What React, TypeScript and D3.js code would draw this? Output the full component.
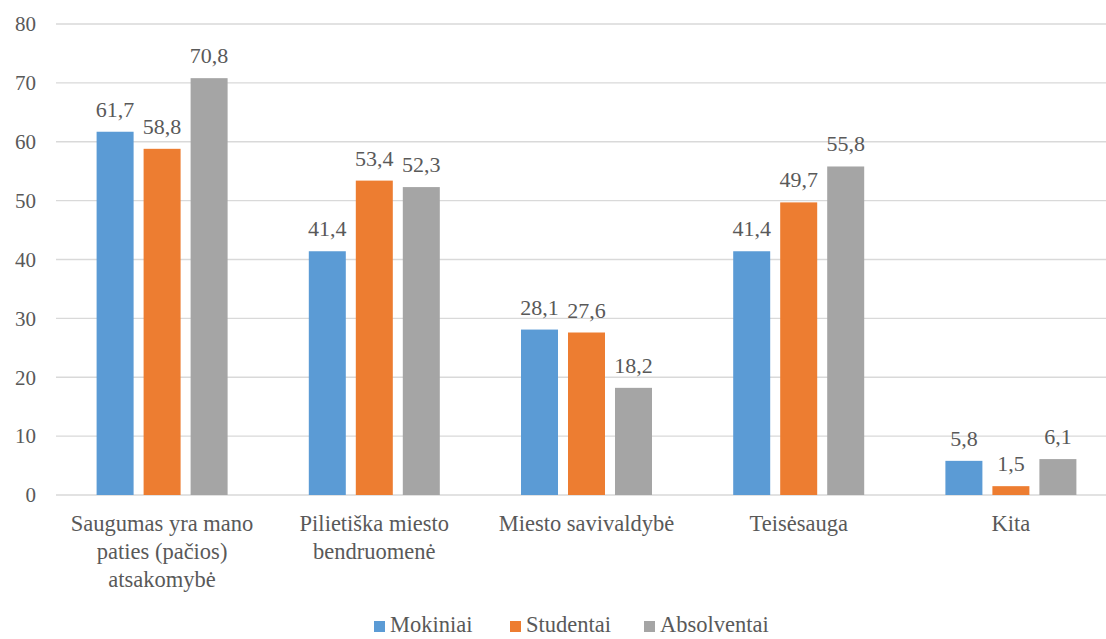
import React from "react";
import * as d3 from "d3";

const categories = [
  "Saugumas yra mano paties (pačios) atsakomybė",
  "Pilietiška miesto bendruomenė",
  "Miesto savivaldybė",
  "Teisėsauga",
  "Kita",
];
const categoryLines = [
  ["Saugumas yra mano", "paties (pačios)", "atsakomybė"],
  ["Pilietiška miesto", "bendruomenė"],
  ["Miesto savivaldybė"],
  ["Teisėsauga"],
  ["Kita"],
];
const seriesNames = ["Mokiniai", "Studentai", "Absolventai"];
const mokiniai = [61.7, 41.4, 28.1, 41.4, 5.8];
const studentai = [58.8, 53.4, 27.6, 49.7, 1.5];
const absolventai = [70.8, 52.3, 18.2, 55.8, 6.1];
const colors = ["#5B9BD5", "#ED7D31", "#A5A5A5"];
const yTicks = [0, 10, 20, 30, 40, 50, 60, 70, 80];

const W = 1106;
const H = 639;
const FONT =
  '"Times New Roman", Times, "Liberation Serif", Tinos, "Noto Serif", "DejaVu Serif", serif';
const TXT = "#595959";

export default function App() {
  const series = [mokiniai, studentai, absolventai];
  const x = d3.scaleBand<string>().domain(categories).range([56, 1117]).paddingInner(0).paddingOuter(0);
  const y = d3.scaleLinear().domain([0, 80]).range([495, 24]);
  const barW = 37;
  const gap = 10;
  const groupW = barW * 3 + gap * 2;
  const fmt = (v: number) => v.toFixed(1).replace(".", ",");

  const legendX = [374, 510, 644];

  return (
    <svg width={W} height={H} style={{ position: "absolute", left: 0, top: 0, fontFamily: FONT }}>
      <rect x={0} y={0} width={W} height={H} fill="#fff" />
      {yTicks.map((t) => (
        <g key={t}>
          <line x1={56} x2={1106} y1={y(t)} y2={y(t)} stroke="#D9D9D9" strokeWidth={1.3} />
          <text x={36} y={y(t)} dy="0.35em" textAnchor="end" fontSize={21} fill={TXT} style={{ fontFamily: FONT }}>
            {t}
          </text>
        </g>
      ))}
      {categories.map((c, i) => {
        const cx = (x(c) as number) + x.bandwidth() / 2;
        const start = cx - groupW / 2;
        return (
          <g key={c}>
            {series.map((s, j) => {
              const bx = start + j * (barW + gap);
              const v = s[i];
              return (
                <g key={j}>
                  <rect x={bx} y={y(v)} width={barW} height={y(0) - y(v)} fill={colors[j]} />
                  <text x={bx + barW / 2} y={y(v) - 15} textAnchor="middle" fontSize={22} fill={TXT} style={{ fontFamily: FONT }}>
                    {fmt(v)}
                  </text>
                </g>
              );
            })}
            <text textAnchor="middle" fontSize={22.5} fill={TXT} style={{ fontFamily: FONT }}>
              {categoryLines[i].map((l, k) => (
                <tspan key={k} x={cx} y={531 + k * 28}>
                  {l}
                </tspan>
              ))}
            </text>
          </g>
        );
      })}
      {seriesNames.map((n, j) => (
        <g key={n}>
          <rect x={legendX[j]} y={621} width={11} height={11} fill={colors[j]} />
          <text x={legendX[j] + 16} y={632} fontSize={22.5} fill={TXT} style={{ fontFamily: FONT }}>
            {n}
          </text>
        </g>
      ))}
    </svg>
  );
}
